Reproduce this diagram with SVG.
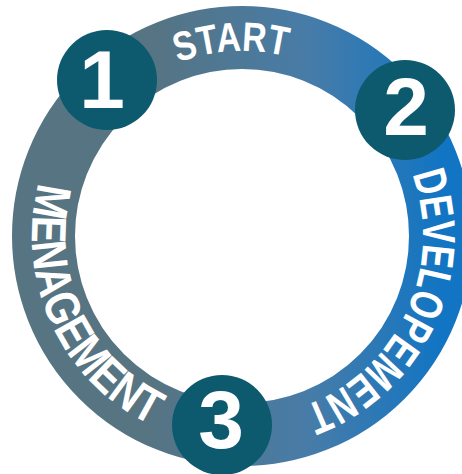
<svg xmlns="http://www.w3.org/2000/svg" xmlns:xlink="http://www.w3.org/1999/xlink" width="462" height="474" viewBox="0 0 462 474">
  <defs>
    <linearGradient id="ringGrad" gradientUnits="userSpaceOnUse" x1="150" y1="0" x2="440" y2="0">
      <stop offset="0" stop-color="#567482"/>
      <stop offset="0.55" stop-color="#477ca8"/>
      <stop offset="1" stop-color="#1275c3"/>
    </linearGradient>
    <path id="pStart" d="M 57 236 A 185 185 0 0 1 427 236"/>
    <path id="pDev" d="M 242 55 A 181 181 0 0 1 242 417"/>
    <path id="pMen" d="M 242 26 A 210 210 0 0 0 242 446"/>
  </defs>
  <style>
    .badge { fill: #0d5a6f; }
    .num { fill: #ffffff; font-family: "Liberation Sans", Arial, sans-serif; font-weight: bold; font-size: 82px; text-anchor: middle; }
    .arc { fill: #ffffff; font-family: "Liberation Sans", Arial, sans-serif; font-weight: bold; text-anchor: middle; }
  </style>
  <g id="connectors">
    <circle cx="242" cy="236" r="198.5" fill="none" stroke="url(#ringGrad)" stroke-width="63"/>
  </g>
  <g id="labels">
    <text class="arc" font-size="41"><textPath xlink:href="#pStart" href="#pStart" startOffset="48.2%" textLength="110" lengthAdjust="spacingAndGlyphs">START</textPath></text>
    <text class="arc" font-size="46"><textPath xlink:href="#pDev" href="#pDev" startOffset="63.9%" textLength="284" lengthAdjust="spacingAndGlyphs">DEVELOPEMENT</textPath></text>
    <text class="arc" font-size="49"><textPath xlink:href="#pMen" href="#pMen" startOffset="63.8%" textLength="290" lengthAdjust="spacingAndGlyphs">MENAGEMENT</textPath></text>
  </g>
  <g id="node-1">
    <circle class="badge" cx="107" cy="80" r="50"/>
    <text class="num" x="102" y="108">1</text>
  </g>
  <g id="node-2">
    <circle class="badge" cx="405" cy="110" r="50"/>
    <text class="num" x="406" y="135">2</text>
  </g>
  <g id="node-3">
    <circle class="badge" cx="222" cy="425" r="50"/>
    <text class="num" x="221" y="448">3</text>
  </g>
</svg>
